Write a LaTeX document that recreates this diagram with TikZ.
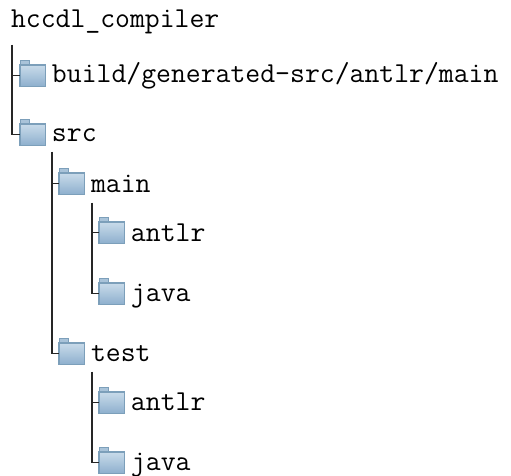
\documentclass[tikz,border=0pt]{standalone}
\usetikzlibrary{calc}
\definecolor{foldtop}{HTML}{C9DBEA}
\definecolor{foldbot}{HTML}{8DAFCD}
\definecolor{foldedge}{HTML}{7C9FBA}
\definecolor{foldtab}{HTML}{A9C3D9}
\tikzset{
  x=0.5pt,y=-0.5pt,
  foldbody/.style={draw=foldedge,line width=0.6pt,top color=foldtop,bottom color=foldbot,minimum width=12.6pt,minimum height=10.8pt,inner sep=0pt,outer sep=0pt,anchor=north west},
  foldtabs/.style={draw=foldedge,line width=0.5pt,fill=foldtab},
  label text/.style={font=\ttfamily\fontsize{14.45}{17}\selectfont,anchor=base west,inner sep=0pt,outer sep=0pt},
  branch/.style={draw=black!85,line width=0.55pt}
}
\newcommand{\folderitem}[5]{%
  \fill[foldtabs] (#2+1,#3-4) rectangle (#2+10,#3+1);
  \node[foldbody] (#1) at (#2,#3) {};
  \node[label text] (#1t) at (#2+32,#3+#5) {#4};
}
\begin{document}
\begin{tikzpicture}
\useasboundingbox (0,0) rectangle (511,476);
\node[label text] (root) at (11,28) {hccdl\_compiler};
\folderitem{build}{20}{65}{build/generated-src/antlr/main}{18}
\folderitem{src}{20}{124}{src}{18}
\folderitem{main}{59}{173}{main}{20}
\folderitem{mainantlr}{99}{222}{antlr}{20}
\folderitem{mainjava}{99}{283}{java}{19}
\folderitem{test}{59}{343}{test}{19}
\folderitem{testantlr}{99}{392}{antlr}{19}
\folderitem{testjava}{99}{452}{java}{19}
\coordinate (t0) at (12,45);
\coordinate (t1) at (52,152);
\coordinate (t2) at (92,203);
\coordinate (t3) at (92,372);
\draw[branch] (t0) |- (build.west);
\draw[branch] (t0) |- (src.west);
\draw[branch] (t1) |- (main.west);
\draw[branch] (t1) |- (test.west);
\draw[branch] (t2) |- (mainantlr.west);
\draw[branch] (t2) |- (mainjava.west);
\draw[branch] (t3) |- (testantlr.west);
\draw[branch] (t3) |- (testjava.west);
\end{tikzpicture}
\end{document}
